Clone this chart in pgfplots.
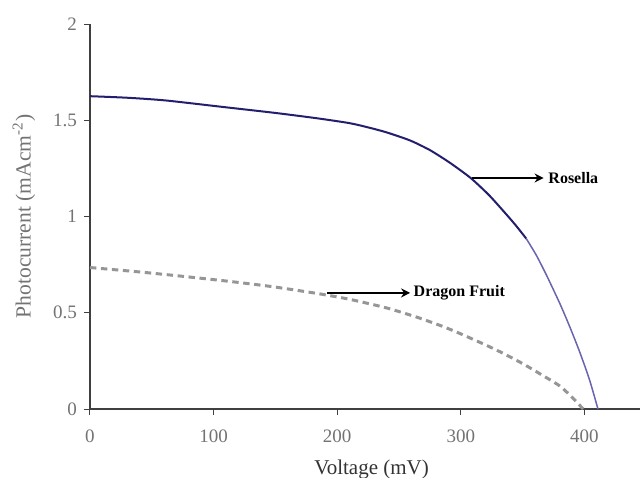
\documentclass[border=0pt]{standalone}
\usepackage{pgfplots}
\pgfplotsset{compat=1.18}
\usepackage{fontspec}
\setmainfont{Liberation Serif}
\usetikzlibrary{arrows.meta}
\definecolor{navy}{RGB}{35,30,110}
\definecolor{lightnavy}{RGB}{105,100,175}
\definecolor{dashgray}{RGB}{150,150,150}
\begin{document}
\begin{tikzpicture}
\begin{axis}[
  scale only axis, width=275pt, height=192.5pt,
  xmin=0, xmax=445, ymin=0, ymax=2,
  axis x line*=bottom, axis y line*=left,
  axis line style={-, black!75, line width=0.6pt},
  xtick={0,100,200,300,400}, ytick={0,0.5,1,1.5,2},
  tick align=outside, major tick length=3pt,
  tick style={black!75, line width=0.5pt},
  tick label style={font=\fontsize{9.5}{11}\selectfont, text=black!55},
  xticklabel style={yshift=-4pt},
  /pgf/number format/assume math mode=true,
  xlabel={Voltage (mV)}, ylabel={Photocurrent (mAcm\textsuperscript{-2})},
  xlabel style={at={(axis description cs:0.512,-0.156)}, anchor=center, font=\fontsize{10.5}{12}\selectfont, text=black!80},
  ylabel style={at={(axis description cs:-0.12,0.5)}, anchor=center, font=\fontsize{10.8}{12}\selectfont, text=black!55},
  clip=false,
]
% Rosella (dark part)
\addplot[navy, line width=1pt, smooth, tension=0.4] coordinates {
(0,1.625) (30,1.617) (61,1.603) (109,1.568) (150,1.538) (184,1.51) (210,1.485) (225,1.463)
(240,1.437) (259,1.395) (275,1.345) (291,1.28) (308,1.20) (323,1.11) (337,1.01) (345,0.95) (353,0.885)
};
% Rosella (light part)
\addplot[lightnavy, line width=0.75pt, smooth, tension=0.4] coordinates {
(353,0.885) (361,0.80) (369,0.70) (380,0.55) (388,0.43) (396,0.30) (404,0.155) (411,0.0)
};
% Dragon Fruit
\addplot[dashgray, line width=1.5pt, dash pattern=on 3.2pt off 2.3pt, smooth, tension=0.4] coordinates {
(0,0.735) (40,0.712) (71,0.692) (110,0.665) (147,0.636) (184,0.60) (210,0.57) (240,0.525)
(264,0.478) (285,0.43) (299,0.393) (320,0.333) (334,0.29) (350,0.236) (364,0.183) (380,0.12) (391,0.055) (399,0.0)
};
\draw[-{Stealth[length=4.5pt,width=4.5pt]}, line width=1.1pt, black] (axis cs:309,1.20) -- (axis cs:367,1.20);
\node[anchor=west, font=\fontsize{8}{9}\selectfont\bfseries, inner sep=1pt] at (axis cs:369,1.20) {Rosella};
\draw[-{Stealth[length=4.5pt,width=4.5pt]}, line width=1.1pt, black] (axis cs:192,0.603) -- (axis cs:259,0.603);
\node[anchor=west, font=\fontsize{8}{9}\selectfont\bfseries, inner sep=1pt] at (axis cs:260,0.603) {Dragon Fruit};
\end{axis}
\pgfresetboundingbox
\path ([shift={(-45pt,-34.5pt)}]current axis.south west) rectangle ([shift={(0pt,12pt)}]current axis.north east);
\end{tikzpicture}
\end{document}
